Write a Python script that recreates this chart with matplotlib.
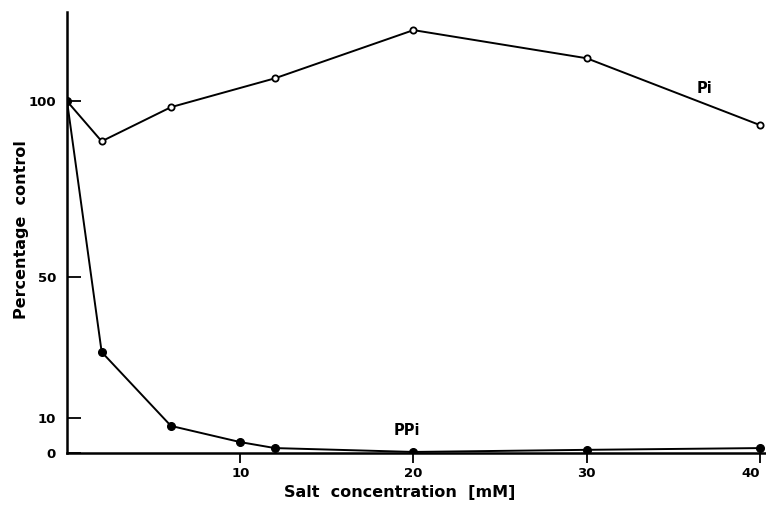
import matplotlib.pyplot as plt

# salt concentration (mM)
conc = [0, 2, 6, 12, 20, 30, 40]
pi_pct = [100, 88.6, 98.3, 106.5, 120.2, 112.2, 93.2]

conc_ppi = [0, 2, 6, 10, 12, 20, 30, 40]
ppi_pct = [100, 28.7, 7.7, 3.1, 1.4, 0.3, 0.9, 1.4]

xticks = [10, 20, 30, 40]
yticks = [0, 10, 50, 100]

plt.rcParams['font.family'] = 'DejaVu Sans'

fig = plt.figure(figsize=(7.66, 5.07), dpi=100)
ax = fig.add_axes([0.0875, 0.1065, 0.9125, 0.8695])

ax.plot(conc, pi_pct, color='black', lw=1.4, marker='o', ms=4.5,
        mfc='white', mec='black', mew=1.3, zorder=3)
ax.plot(conc_ppi, ppi_pct, color='black', lw=1.4, marker='o', ms=5.5,
        mfc='black', mec='black', zorder=3)

ax.text(36.8, 103.7, 'Pi', fontsize=10.5, fontweight='semibold', ha='center', va='center')
ax.text(19.6, 6.5, 'PPi', fontsize=10.5, fontweight='semibold', ha='center', va='center')

ax.set_xlim(0, 40.35)
ax.set_ylim(0, 125.3)

for side in ['top', 'right']:
    ax.spines[side].set_visible(False)
for side in ['left', 'bottom']:
    ax.spines[side].set_linewidth(1.8)

ax.set_xticks(xticks)
ax.set_yticks(yticks)
ax.tick_params(axis='x', direction='out', length=7, width=1.3, labelsize=9.5, pad=3)
ax.tick_params(axis='y', direction='in', length=10, width=1.3, labelsize=9.5, pad=8)
for lbl in ax.get_xticklabels() + ax.get_yticklabels():
    lbl.set_fontweight('semibold')
ax.get_xticklabels()[-1].set_ha('right')

ax.set_xlabel('Salt  concentration  [mM]', fontsize=11.5, fontweight='semibold')
ax.set_ylabel('Percentage  control', fontsize=11.5, fontweight='semibold')
ax.xaxis.set_label_coords(0.476, -0.072)
ax.yaxis.set_label_coords(-0.054, 0.506)

fig.savefig('out.png', dpi=100)
